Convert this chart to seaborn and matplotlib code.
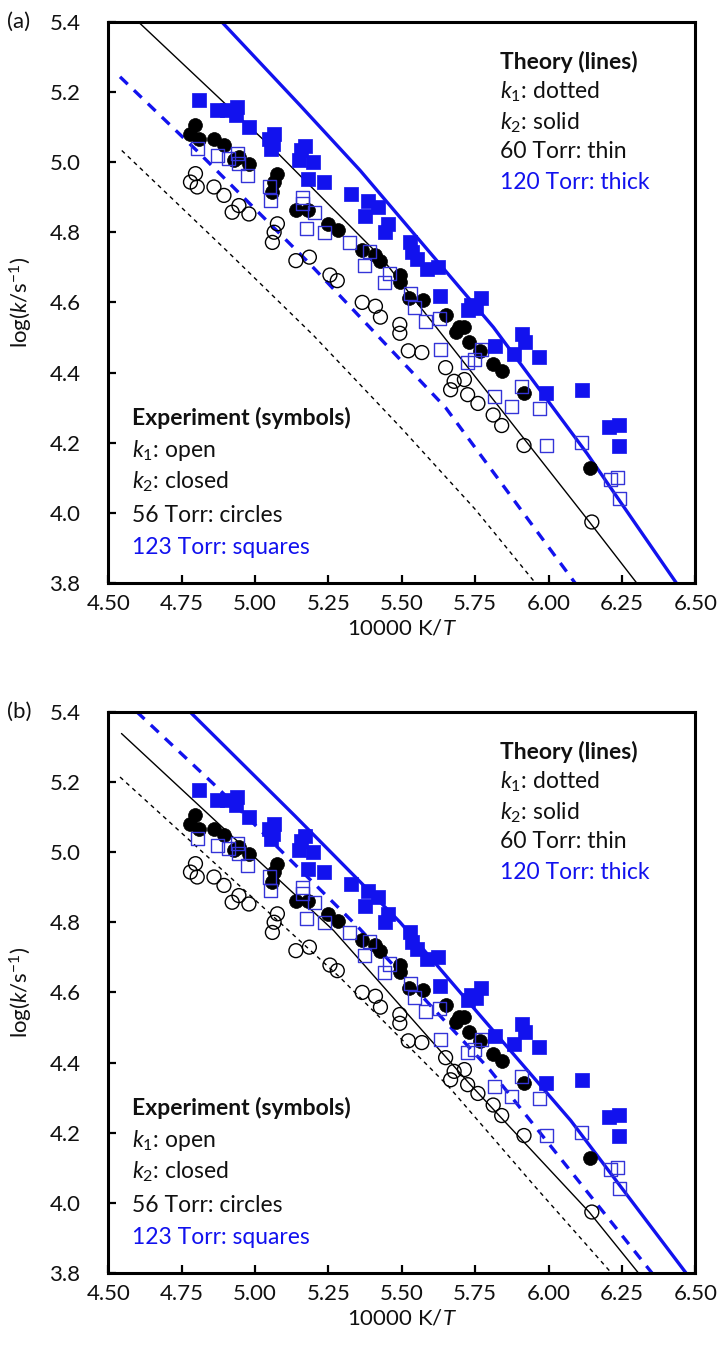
import matplotlib
matplotlib.use("Agg")
import matplotlib.pyplot as plt
import seaborn as sns

sns.set_theme(style="white")
plt.rcParams['font.family'] = ['Lato', 'DejaVu Sans']
plt.rcParams['mathtext.fontset'] = 'custom'
plt.rcParams['mathtext.rm'] = 'Lato'
plt.rcParams['mathtext.it'] = 'Lato:italic'
plt.rcParams['mathtext.bf'] = 'Lato:bold'

BLUE = '#1212EE'
BLUE_OPEN = '#3434D8'

# --- experiment (same symbols in both panels) ---
# k1, 56 Torr: open circles
k1_56_x = [4.780, 4.797, 4.803, 4.860, 4.894, 4.922, 4.945, 4.979, 5.059, 5.065, 5.076,
           5.139, 5.185, 5.255, 5.280, 5.365, 5.410, 5.427, 5.493, 5.493, 5.522, 5.568,
           5.649, 5.666, 5.678, 5.713, 5.724, 5.759, 5.811, 5.840, 5.916, 6.147]
k1_56_y = [4.943, 4.967, 4.929, 4.929, 4.905, 4.857, 4.876, 4.852, 4.771, 4.800, 4.824,
           4.719, 4.729, 4.678, 4.662, 4.600, 4.589, 4.558, 4.537, 4.512, 4.462, 4.457,
           4.414, 4.351, 4.375, 4.380, 4.337, 4.312, 4.279, 4.249, 4.192, 3.974]

# k2, 56 Torr: filled circles
k2_56_x = [4.780, 4.797, 4.808, 4.860, 4.894, 4.928, 4.945, 4.979, 5.059, 5.065, 5.076,
           5.139, 5.179, 5.248, 5.283, 5.365, 5.408, 5.424, 5.495, 5.495, 5.525, 5.571,
           5.652, 5.684, 5.696, 5.713, 5.730, 5.765, 5.811, 5.840, 5.916, 6.141]
k2_56_y = [5.081, 5.105, 5.067, 5.067, 5.048, 5.005, 5.014, 4.995, 4.914, 4.943, 4.967,
           4.862, 4.862, 4.824, 4.805, 4.748, 4.736, 4.717, 4.678, 4.658, 4.613, 4.606,
           4.565, 4.516, 4.530, 4.530, 4.487, 4.462, 4.424, 4.404, 4.342, 4.129]

# k1, 123 Torr: open squares
k1_123_x = [4.803, 4.871, 4.911, 4.940, 4.945, 4.974, 5.048, 5.054, 5.162, 5.162, 5.174,
            5.202, 5.236, 5.322, 5.373, 5.390, 5.442, 5.459, 5.530, 5.542, 5.582, 5.628,
            5.632, 5.724, 5.748, 5.771, 5.817, 5.875, 5.907, 5.968, 5.991, 6.113, 6.211,
            6.234, 6.240]
k1_123_y = [5.038, 5.019, 5.010, 5.024, 4.995, 4.962, 4.929, 4.890, 4.900, 4.881, 4.810,
            4.857, 4.800, 4.771, 4.705, 4.745, 4.657, 4.681, 4.625, 4.585, 4.546, 4.553,
            4.467, 4.428, 4.438, 4.467, 4.332, 4.303, 4.361, 4.298, 4.192, 4.201, 4.095,
            4.100, 4.042]

# k2, 123 Torr: filled squares
k2_123_x = [4.808, 4.871, 4.905, 4.934, 4.940, 4.979, 5.048, 5.054, 5.060, 5.065, 5.151,
            5.156, 5.170, 5.179, 5.196, 5.236, 5.327, 5.373, 5.385, 5.419, 5.442, 5.453,
            5.527, 5.533, 5.550, 5.584, 5.624, 5.630, 5.724, 5.736, 5.753, 5.771, 5.817,
            5.881, 5.910, 5.921, 5.968, 5.991, 6.113, 6.205, 6.240, 6.240]
k2_123_y = [5.176, 5.148, 5.148, 5.133, 5.157, 5.100, 5.067, 5.038, 5.052, 5.081, 5.005,
            5.033, 5.045, 4.952, 5.000, 4.943, 4.909, 4.847, 4.890, 4.871, 4.800, 4.824,
            4.771, 4.743, 4.724, 4.695, 4.700, 4.619, 4.578, 4.593, 4.583, 4.612, 4.477,
            4.453, 4.511, 4.487, 4.443, 4.342, 4.351, 4.245, 4.250, 4.192]

# --- theory curves, panel (a) ---
a_k1_60_x = [4.546, 4.90, 5.20, 5.50, 5.75, 5.955]
a_k1_60_y = [5.033, 4.750, 4.505, 4.240, 4.010, 3.800]
a_k2_60_x = [4.602, 5.085, 5.430, 5.845, 6.139, 6.300]
a_k2_60_y = [5.400, 5.019, 4.728, 4.287, 3.974, 3.800]
a_k1_120_x = [4.540, 4.801, 5.176, 5.649, 6.090]
a_k1_120_y = [5.243, 5.033, 4.719, 4.300, 3.800]
a_k2_120_x = [4.886, 5.153, 5.358, 5.812, 6.130, 6.435]
a_k2_120_y = [5.400, 5.162, 4.976, 4.529, 4.170, 3.800]

# --- theory curves, panel (b) ---
b_k1_60_x = [4.540, 4.900, 5.289, 5.660, 5.950, 6.214]
b_k1_60_y = [5.214, 4.940, 4.643, 4.331, 4.050, 3.800]
b_k2_60_x = [4.545, 5.268, 5.730, 6.139, 6.306]
b_k2_60_y = [5.338, 4.776, 4.340, 3.973, 3.800]
b_k1_120_x = [4.597, 4.869, 5.357, 5.799, 6.352]
b_k1_120_y = [5.400, 5.186, 4.781, 4.380, 3.800]
b_k2_120_x = [4.778, 5.136, 5.494, 5.706, 6.075, 6.468]
b_k2_120_y = [5.400, 5.103, 4.800, 4.593, 4.235, 3.800]

x_ticks = [4.50, 4.75, 5.00, 5.25, 5.50, 5.75, 6.00, 6.25, 6.50]
y_ticks = [3.8, 4.0, 4.2, 4.4, 4.6, 4.8, 5.0, 5.2, 5.4]

theory_text = [r"$k_1$: dotted", r"$k_2$: solid", "60 Torr: thin", "120 Torr: thick"]
exp_text = [r"$k_1$: open", r"$k_2$: closed", "56 Torr: circles", "123 Torr: squares"]

FS = 16      # ticks / axis labels
FS_TXT = 16.5  # in-plot notes
INK = '#111111'


def draw_panel(ax, lines, tag):
    # theory lines
    (x1, y1), (x2, y2), (x3, y3), (x4, y4) = lines
    sns.lineplot(x=x1, y=y1, ax=ax, sort=False, estimator=None, color='black',
                 lw=1.0, linestyle=(0, (3, 3)))
    sns.lineplot(x=x2, y=y2, ax=ax, sort=False, estimator=None, color='black', lw=1.0)
    sns.lineplot(x=x3, y=y3, ax=ax, sort=False, estimator=None, color=BLUE,
                 lw=2.4, linestyle=(0, (3.2, 2.6)))
    sns.lineplot(x=x4, y=y4, ax=ax, sort=False, estimator=None, color=BLUE, lw=2.4)

    # experimental symbols
    sns.scatterplot(x=k1_56_x, y=k1_56_y, ax=ax, marker='o', s=100,
                    facecolor='none', edgecolor='black', linewidth=1.0, zorder=3)
    sns.scatterplot(x=k2_56_x, y=k2_56_y, ax=ax, marker='o', s=100,
                    color='black', edgecolor='black', linewidth=0.5, zorder=3)
    sns.scatterplot(x=k1_123_x, y=k1_123_y, ax=ax, marker='s', s=88,
                    facecolor='none', edgecolor=BLUE_OPEN, linewidth=1.0, zorder=4)
    sns.scatterplot(x=k2_123_x, y=k2_123_y, ax=ax, marker='s', s=88,
                    color=BLUE, edgecolor=BLUE, linewidth=0.5, zorder=4)

    ax.set_xlim(4.5, 6.5)
    ax.set_ylim(3.8, 5.4)
    ax.set_xticks(x_ticks)
    ax.set_xticklabels([f"{v:.2f}" for v in x_ticks])
    ax.set_yticks(y_ticks)
    ax.set_yticklabels([f"{v:.1f}" for v in y_ticks])
    ax.tick_params(axis='both', direction='in', length=6, width=1.6, colors='black',
                   labelsize=FS, labelcolor=INK, left=True, bottom=True,
                   top=False, right=False)
    ax.tick_params(axis='y', pad=20)
    ax.tick_params(axis='x', pad=8)
    for sp in ax.spines.values():
        sp.set_color('black')
        sp.set_linewidth(2.2)

    ax.set_xlabel("10000 K/$T$", fontsize=FS, color=INK)
    ax.set_ylabel("log($k$/s$^{-1}$)", fontsize=FS, color=INK)
    ax.xaxis.set_label_coords(0.5, -0.064)
    ax.yaxis.set_label_coords(-0.125, 0.5)

    ax.text(-0.172, 1.0, tag, transform=ax.transAxes, ha='left', va='center',
            fontsize=FS, color=INK)

    # legend-like text blocks
    ax.text(0.667, 0.929, "Theory (lines)", transform=ax.transAxes, fontsize=FS_TXT,
            fontweight='bold', va='center', color=INK)
    for i, (t, yy) in enumerate(zip(theory_text, [0.875, 0.821, 0.768, 0.714])):
        ax.text(0.667, yy, t, transform=ax.transAxes, fontsize=FS_TXT, va='center',
                color=BLUE if i == 3 else INK)
    ax.text(0.041, 0.294, "Experiment (symbols)", transform=ax.transAxes, fontsize=FS_TXT,
            fontweight='bold', va='center', color=INK)
    for i, (t, yy) in enumerate(zip(exp_text, [0.237, 0.180, 0.121, 0.064])):
        ax.text(0.041, yy, t, transform=ax.transAxes, fontsize=FS_TXT, va='center',
                color=BLUE if i == 3 else INK)


fig = plt.figure(figsize=(7.18, 13.68), dpi=100)
ax_a = fig.add_axes([0.1508, 0.5738, 0.8178, 0.4103])
ax_b = fig.add_axes([0.1508, 0.0694, 0.8178, 0.4103])

draw_panel(ax_a, [(a_k1_60_x, a_k1_60_y), (a_k2_60_x, a_k2_60_y),
                  (a_k1_120_x, a_k1_120_y), (a_k2_120_x, a_k2_120_y)], "(a)")
draw_panel(ax_b, [(b_k1_60_x, b_k1_60_y), (b_k2_60_x, b_k2_60_y),
                  (b_k1_120_x, b_k1_120_y), (b_k2_120_x, b_k2_120_y)], "(b)")

fig.savefig("out.png", dpi=100)
